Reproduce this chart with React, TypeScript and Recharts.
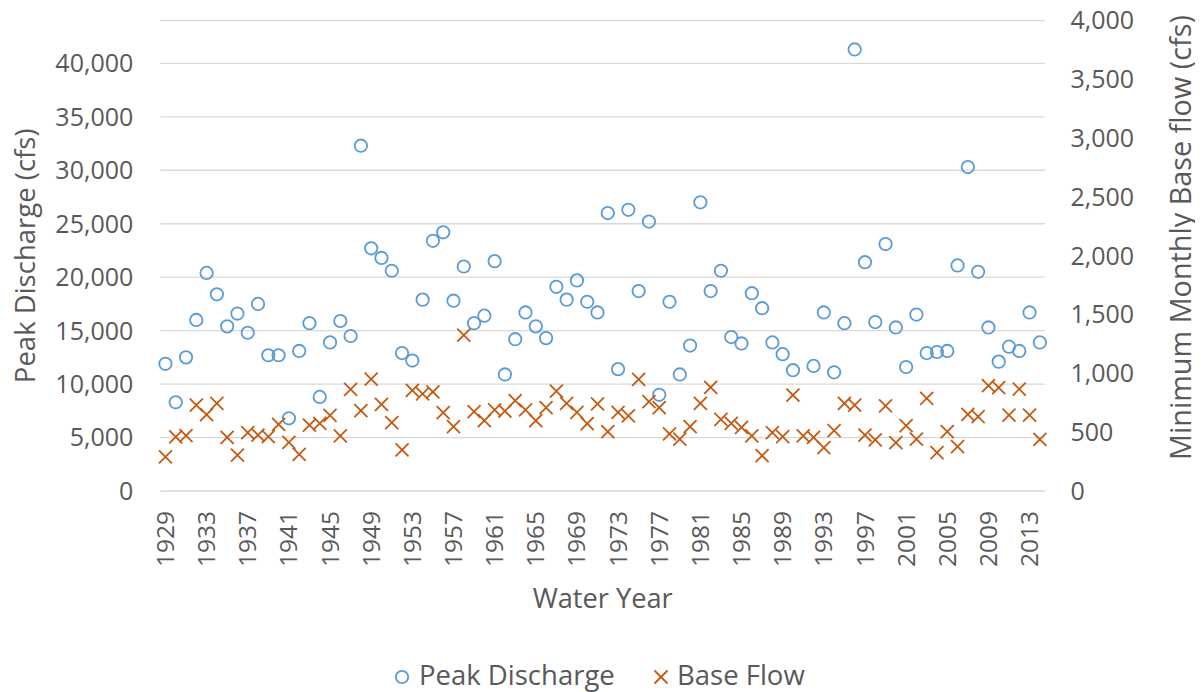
import React from 'react';
import { ScatterChart, Scatter, XAxis, YAxis, CartesianGrid, Legend, Label } from 'recharts';

const years = [
  1929, 1930, 1931, 1932, 1933, 1934, 1935, 1936, 1937, 1938,
  1939, 1940, 1941, 1942, 1943, 1944, 1945, 1946, 1947, 1948,
  1949, 1950, 1951, 1952, 1953, 1954, 1955, 1956, 1957, 1958,
  1959, 1960, 1961, 1962, 1963, 1964, 1965, 1966, 1967, 1968,
  1969, 1970, 1971, 1972, 1973, 1974, 1975, 1976, 1977, 1978,
  1979, 1980, 1981, 1982, 1983, 1984, 1985, 1986, 1987, 1988,
  1989, 1990, 1991, 1992, 1993, 1994, 1995, 1996, 1997, 1998,
  1999, 2000, 2001, 2002, 2003, 2004, 2005, 2006, 2007, 2008,
  2009, 2010, 2011, 2012, 2013, 2014,
];

const peakDischarge: (number | null)[] = [
  11900, 8300, 12500, 16000, 20400, 18400, 15400, 16600, 14800, 17500,
  12700, 12700, 6800, 13100, 15700, 8800, 13900, 15900, 14500, 32300,
  22700, 21800, 20600, 12900, 12200, 17900, 23400, 24200, 17800, 21000,
  15700, 16400, 21500, 10900, 14200, 16700, 15400, 14300, 19100, 17900,
  19700, 17700, 16700, 26000, 11400, 26300, 18700, 25200, 9000, 17700,
  10900, 13600, 27000, 18700, 20600, 14400, 13800, 18500, 17100, 13900,
  12800, 11300, null, 11700, 16700, 11100, 15700, 41300, 21400, 15800,
  23100, 15300, 11600, 16500, 12900, 13000, 13100, 21100, 30300, 20500,
  15300, 12100, 13500, 13100, 16700, 13900,
];

const baseFlow: number[] = [
  290, 460, 470, 730, 650, 745, 456, 306, 496, 476,
  462, 567, 414, 312, 561, 575, 643, 468, 864, 683,
  952, 737, 581, 349, 856, 825, 842, 666, 547, 1326,
  675, 598, 689, 680, 768, 689, 598, 709, 850, 745,
  669, 572, 740, 504, 669, 638, 949, 760, 709, 485,
  442, 547, 745, 881, 609, 575, 541, 468, 300, 496,
  462, 816, 468, 456, 368, 513, 745, 731, 476, 434,
  723, 411, 555, 442, 788, 326, 504, 377, 652, 632,
  896, 879, 646, 867, 646, 439,
];

const yearTicks = [
  1929, 1933, 1937, 1941, 1945, 1949, 1953, 1957, 1961, 1965, 1969,
  1973, 1977, 1981, 1985, 1989, 1993, 1997, 2001, 2005, 2009, 2013,
];
const leftTicks = [0, 5000, 10000, 15000, 20000, 25000, 30000, 35000, 40000];
const rightTicks = [0, 500, 1000, 1500, 2000, 2500, 3000, 3500, 4000];

const peakPoints = years
  .map((year, i) => ({ year, value: peakDischarge[i] }))
  .filter((d) => d.value !== null);
const basePoints = years.map((year, i) => ({ year, value: baseFlow[i] }));

const FONT = '"Open Sans", sans-serif';
const TEXT = '#595959';
const BLUE = '#5B9BD5';
const ORANGE = '#C65911';
const W = 1195;
const H = 684;

const fmt = (v: number) => v.toLocaleString('en-US');

const CircleShape = (p: any) => (
  <circle cx={p.cx} cy={p.cy} r={6.2} fill="none" stroke={BLUE} strokeWidth={1.8} />
);

const CrossShape = (p: any) => {
  const s = 6.5;
  return (
    <g stroke={ORANGE} strokeWidth={1.8}>
      <line x1={p.cx - s} y1={p.cy - s} x2={p.cx + s} y2={p.cy + s} />
      <line x1={p.cx - s} y1={p.cy + s} x2={p.cx + s} y2={p.cy - s} />
    </g>
  );
};

const YearTick = (p: any) => {
  const x = p.x;
  const y = p.y + 20;
  return (
    <text
      x={x}
      y={y}
      dy="0.35em"
      transform={`rotate(-90, ${x}, ${y})`}
      textAnchor="end"
      fill={TEXT}
      fontSize={24.5}
      fontFamily={FONT}
    >
      {p.payload.value}
    </text>
  );
};

const LeftTitle = (p: any) => {
  const vb = p.viewBox;
  const x = vb.x + 27;
  const y = vb.y + vb.height / 2;
  return (
    <text x={x} y={y} transform={`rotate(-90, ${x}, ${y})`} textAnchor="middle" fill={TEXT} fontSize={27.5} fontFamily={FONT}>
      Peak Discharge (cfs)
    </text>
  );
};

const RightTitle = (p: any) => {
  const vb = p.viewBox;
  const x = vb.x + 145.7;
  const y = 229.5;
  return (
    <text x={x} y={y} transform={`rotate(-90, ${x}, ${y})`} textAnchor="middle" fill={TEXT} fontSize={28.8} fontFamily={FONT}>
      Minimum Monthly Base flow (cfs)
    </text>
  );
};

const XTitle = (p: any) => {
  const vb = p.viewBox;
  return (
    <text x={vb.x + vb.width / 2} y={600} textAnchor="middle" fill={TEXT} fontSize={27.2} fontFamily={FONT}>
      Water Year
    </text>
  );
};

const legendText: React.CSSProperties = {
  position: 'absolute',
  top: 0,
  lineHeight: '34px',
  whiteSpace: 'nowrap',
};

const LegendContent = () => (
  <div
    style={{
      position: 'relative',
      width: W,
      height: 34,
      fontFamily: FONT,
      fontSize: 27.5,
      color: TEXT,
    }}
  >
    <svg width={16} height={16} style={{ position: 'absolute', left: 386, top: 11 }}>
      <circle cx={8} cy={8} r={6.2} fill="none" stroke={BLUE} strokeWidth={1.8} />
    </svg>
    <span style={{ ...legendText, left: 411 }}>Peak Discharge</span>
    <svg width={16} height={16} style={{ position: 'absolute', left: 644.7, top: 11 }}>
      <g stroke={ORANGE} strokeWidth={1.8}>
        <line x1={1.5} y1={1.5} x2={14.5} y2={14.5} />
        <line x1={1.5} y1={14.5} x2={14.5} y2={1.5} />
      </g>
    </svg>
    <span style={{ ...legendText, left: 669 }}>Base Flow</span>
  </div>
);

const tickStyle = { fill: TEXT, fontSize: 25, fontFamily: FONT };

export default function App() {
  return (
    <div style={{ width: W, height: H }}>
      <ScatterChart width={W} height={H} margin={{ top: 12.6, right: 0, bottom: 141, left: 0.3 }}>
        <CartesianGrid yAxisId="left" vertical={false} stroke="#D9D9D9" strokeWidth={1.3} />
        <XAxis
          type="number"
          dataKey="year"
          domain={[1928.5, 2014.5]}
          ticks={yearTicks}
          interval={0}
          height={60}
          axisLine={false}
          tickLine={false}
          tickSize={0}
          tickMargin={0}
          tick={<YearTick />}
        >
          <Label content={XTitle} />
        </XAxis>
        <YAxis
          yAxisId="left"
          type="number"
          dataKey="value"
          domain={[0, 44000]}
          ticks={leftTicks}
          interval={0}
          width={152}
          axisLine={false}
          tickLine={false}
          tickSize={0}
          tickMargin={27}
          tick={tickStyle}
          tickFormatter={fmt}
        >
          <Label content={LeftTitle} />
        </YAxis>
        <YAxis
          yAxisId="right"
          orientation="right"
          type="number"
          dataKey="value"
          domain={[0, 4000]}
          ticks={rightTicks}
          interval={0}
          width={158}
          axisLine={false}
          tickLine={false}
          tickSize={0}
          tickMargin={25.5}
          tick={tickStyle}
          tickFormatter={fmt}
        >
          <Label content={RightTitle} />
        </YAxis>
        <Scatter
          name="Peak Discharge"
          yAxisId="left"
          data={peakPoints}
          shape={CircleShape}
          isAnimationActive={false}
        />
        <Scatter
          name="Base Flow"
          yAxisId="right"
          data={basePoints}
          shape={CrossShape}
          isAnimationActive={false}
        />
        <Legend
          verticalAlign="middle"
          align="center"
          content={LegendContent}
          wrapperStyle={{ top: 650.3, left: 0, width: W, height: 34 }}
        />
      </ScatterChart>
    </div>
  );
}
